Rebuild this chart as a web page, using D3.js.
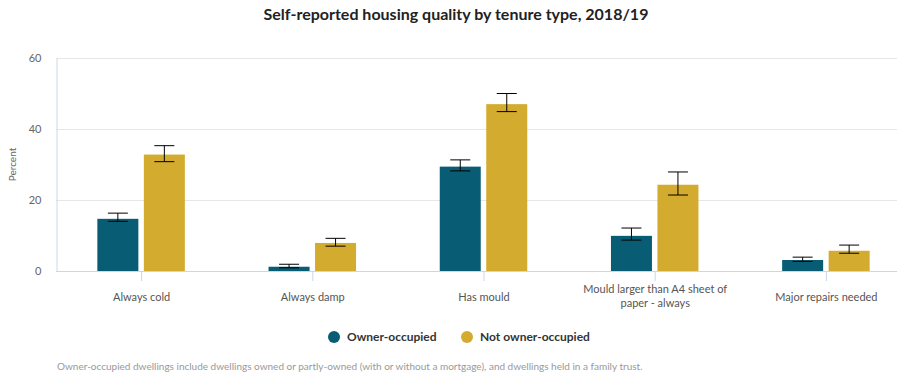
<!DOCTYPE html>
<html><head><meta charset="utf-8">
<script src="https://cdn.jsdelivr.net/npm/d3@7"></script>
<style>
html,body{margin:0;padding:0;background:#fff;}
svg{display:block;font-family:Lato,"Open Sans",sans-serif;}
</style></head>
<body><svg id="c" width="897" height="385"></svg>
<script>
const categories = ["Always cold","Always damp","Has mould","Mould larger than A4 sheet of paper - always","Major repairs needed"];
const seriesNames = ["Owner-occupied","Not owner-occupied"];
const ownerValues = [14.7, 1.2, 29.4, 9.9, 3.1];
const ownerLow    = [14.0, 0.9, 28.2, 8.7, 2.7];
const ownerHigh   = [16.3, 1.9, 31.3, 12.1, 3.9];
const notOwnerValues = [32.8, 7.9, 47.0, 24.3, 5.7];
const notOwnerLow    = [30.8, 7.0, 44.9, 21.4, 5.0];
const notOwnerHigh   = [35.3, 9.2, 50.0, 27.9, 7.3];
const yTicks = [0, 20, 40, 60];
const colors = ["#085c74", "#d2ab2f"];

(function(){
const svg = d3.select("#c");
const mLeft = 56, mRight = 912, mTop = 58, mBottom = 271;

const x = d3.scaleBand().domain(categories).range([mLeft, mRight]);
const y = d3.scaleLinear().domain([0, 60]).range([mBottom, mTop]);
const xs = d3.scaleBand().domain(seriesNames).range([0, 93]);

svg.append("text").attr("x", 456).attr("y", 20).attr("text-anchor", "middle")
  .attr("font-size", 16).attr("font-weight", 700).attr("fill", "#222")
  .text("Self-reported housing quality by tenure type, 2018/19");

svg.append("g").selectAll("line").data(yTicks.filter(d => d > 0)).join("line")
  .attr("x1", mLeft).attr("x2", 897).attr("y1", d => y(d)+0.5).attr("y2", d => y(d)+0.5)
  .attr("stroke", "#e6e6e6").attr("stroke-width", 1);

const ya = svg.append("g").attr("transform", `translate(${mLeft+0.5},0)`)
  .call(d3.axisLeft(y).tickValues(yTicks).tickSize(0).tickPadding(15));
ya.select(".domain").attr("stroke", "#ccd6eb");
ya.selectAll("text").attr("font-size", 11).attr("fill", "#666").attr("font-family","Lato,sans-serif");

svg.append("text").attr("transform", `translate(16,${(mTop+mBottom)/2}) rotate(-90)`)
  .attr("text-anchor", "middle").attr("font-size", 10).attr("fill", "#666").text("Percent");

const data = categories.map((c, i) => ({c, vals: [
  {s: seriesNames[0], v: ownerValues[i], lo: ownerLow[i], hi: ownerHigh[i], k: 0},
  {s: seriesNames[1], v: notOwnerValues[i], lo: notOwnerLow[i], hi: notOwnerHigh[i], k: 1}
]}));
const bw = 41;
const g = svg.append("g").selectAll("g").data(data).join("g")
  .attr("transform", d => `translate(${x(d.c) + x.bandwidth()/2 - 46.5},0)`);
const items = g.selectAll("g").data(d => d.vals).join("g")
  .attr("transform", d => `translate(${xs(d.s) + (xs.bandwidth()-bw)/2 - 0.5},0)`);
items.append("rect").attr("x", 0).attr("width", bw)
  .attr("y", d => y(d.v)).attr("height", d => y(0) - y(d.v))
  .attr("fill", d => colors[d.k]);
const cx = bw/2;
items.append("line").attr("x1", cx).attr("x2", cx).attr("y1", d => y(d.hi)).attr("y2", d => y(d.lo))
  .attr("stroke", "#000").attr("stroke-width", 1);
items.append("line").attr("x1", cx-10).attr("x2", cx+10).attr("y1", d => y(d.hi)).attr("y2", d => y(d.hi))
  .attr("stroke", "#000").attr("stroke-width", 1);
items.append("line").attr("x1", cx-10).attr("x2", cx+10).attr("y1", d => y(d.lo)).attr("y2", d => y(d.lo))
  .attr("stroke", "#000").attr("stroke-width", 1);

const xa = svg.append("g").attr("transform", `translate(0,${mBottom})`)
  .call(d3.axisBottom(x).tickSize(10).tickPadding(12));
xa.select(".domain").remove();
svg.append("line").attr("x1", mLeft).attr("x2", 897).attr("y1", mBottom+0.5).attr("y2", mBottom+0.5).attr("stroke", "#ccd6eb");
xa.selectAll(".tick line").attr("stroke", "#ccd6eb");
xa.selectAll("text").attr("font-size", 11).attr("fill", "#555").attr("font-family","Lato,sans-serif")
  .each(function(d){
    const t = d3.select(this);
    if (d.length > 30) {
      t.text(null);
      t.append("tspan").attr("x", 0).attr("dy", 0).text("Mould larger than A4 sheet of");
      t.append("tspan").attr("x", 0).attr("dy", "1.25em").text("paper - always");
    }
  });

const leg = [{n: seriesNames[0], cx: 334, tx: 347}, {n: seriesNames[1], cx: 467, tx: 480}];
leg.forEach((l, i) => {
  svg.append("circle").attr("cx", l.cx).attr("cy", 337).attr("r", 6).attr("fill", colors[i]);
  svg.append("text").attr("x", l.tx).attr("y", 341).attr("font-size", 12).attr("font-weight", 700)
    .attr("fill", "#333").text(l.n);
});

svg.append("text").attr("x", 57).attr("y", 370).attr("font-size", 10).attr("fill", "#999")
  .text("Owner-occupied dwellings include dwellings owned or partly-owned (with or without a mortgage), and dwellings held in a family trust.");
})();
</script></body></html>
